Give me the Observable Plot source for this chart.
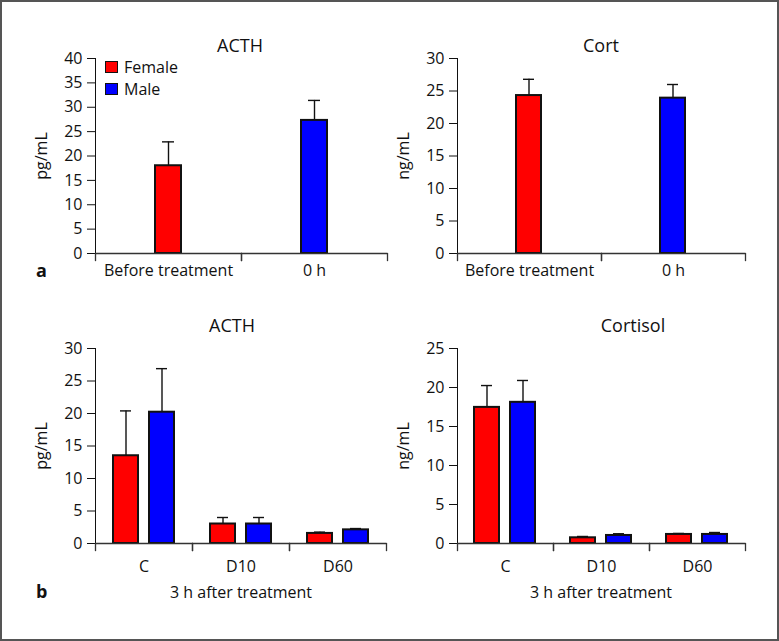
<!DOCTYPE html>
<html>
<head>
<meta charset="utf-8">
<script src="https://cdn.jsdelivr.net/npm/d3@7"></script>
<script src="https://cdn.jsdelivr.net/npm/@observablehq/plot@0.6"></script>
<style>
  body { margin: 0; background: #fff; }
  #fig { position: relative; width: 779px; height: 641px; background: #fff; overflow: hidden;
         font-family: 'Open Sans', sans-serif; color: #111; }
  #border { position: absolute; left: 0; top: 0; width: 779px; height: 641px; box-sizing: border-box;
            border: 2px solid #555; pointer-events: none; }
  .panel { position: absolute; }
  .panel svg { display: block; }
  .title { position: absolute; font-size: 18px; transform: translate(-50%, -50%); white-space: nowrap; }
  .xlabel { position: absolute; font-size: 16px; transform: translate(-50%, -50%); white-space: nowrap; }
  .letter { position: absolute; font-size: 18px; font-weight: bold; transform: translate(0, -50%); }
  .legend { position: absolute; font-size: 16px; }
  .legend .item { position: absolute; white-space: nowrap; transform: translate(0, -50%); display: flex; align-items: center; }
  .legend .sw { width: 11px; height: 10px; border: 1.5px solid #111; margin-right: 6px; }
</style>
</head>
<body>
<div id="fig"></div>
<script>
// ---------- data ----------
const sexes = ["Female", "Male"];
const sexColors = ["#ff0000", "#0000ff"];

// panel a
const groupsA = ["Before treatment", "0 h"];
const sexA = ["Female", "Male"];
const acthA = [18.0, 27.3];
const acthAErr = [22.9, 31.4];
const cortA = [24.3, 23.9];
const cortAErr = [26.8, 26.0];

// panel b (3 h after treatment)
const groupsB = ["C", "D10", "D60"];
const acthBFemale = [13.5, 3.0, 1.55];
const acthBFemaleErr = [20.4, 4.0, 1.75];
const acthBMale = [20.2, 3.0, 2.1];
const acthBMaleErr = [26.9, 4.0, 2.3];
const cortBFemale = [17.45, 0.73, 1.16];
const cortBFemaleErr = [20.25, 0.9, 1.29];
const cortBMale = [18.1, 1.03, 1.16];
const cortBMaleErr = [20.9, 1.25, 1.41];

// axis ticks
const ticksActhA = [0, 5, 10, 15, 20, 25, 30, 35, 40];
const ticksCortA = [0, 5, 10, 15, 20, 25, 30];
const ticksActhB = [0, 5, 10, 15, 20, 25, 30];
const ticksCortB = [0, 5, 10, 15, 20, 25];

// ---------- build rows ----------
const rowsSingle = (groups, sx, vals, errs) =>
  groups.map((g, i) => ({group: g, sex: sx[i], value: vals[i], err: errs[i]}));
const rowsPaired = (groups, f, fe, m, me) =>
  groups.flatMap((g, i) => [
    {group: g, sex: "Female", value: f[i], err: fe[i]},
    {group: g, sex: "Male", value: m[i], err: me[i]}
  ]);

function panel(rows, o) {
  const xKey = o.single ? (() => "bar") : "sex";
  const innerH = o.height - o.mt - o.mb;
  return Plot.plot({
    width: o.width, height: o.height,
    marginLeft: o.ml, marginRight: o.mr, marginTop: o.mt, marginBottom: o.mb,
    style: "font-family: 'Open Sans', sans-serif; font-size: 16px; color: #111; background: transparent; overflow: visible;",
    fx: {domain: o.groups, padding: 0, label: null, tickSize: 0, tickPadding: o.fxPad, axis: "bottom"},
    x: o.single
      ? {domain: ["bar"], padding: 0.7, axis: null}
      : {domain: sexes, paddingInner: 0.3, paddingOuter: 0.47, axis: null},
    y: {domain: [0, o.ticks[o.ticks.length - 1]], ticks: o.ticks, tickSize: 8, tickPadding: 5,
        line: true, label: o.yLabel, labelAnchor: "center", labelArrow: "none", labelOffset: 60},
    color: {domain: sexes, range: sexColors},
    marks: [
      Plot.ruleX(rows, {fx: "group", x: xKey, y1: "value", y2: "err", stroke: "#111", strokeWidth: 1.4}),
      Plot.tickY(rows, {fx: "group", x: xKey, y: "err", stroke: "#111", strokeWidth: 1.4, insetLeft: 7, insetRight: 7}),
      Plot.barY(rows, {fx: "group", x: xKey, y: "value", fill: "sex", stroke: "#111", strokeWidth: 2}),
      Plot.ruleY([0], {stroke: "#333", strokeWidth: 1.3}),
      Plot.frame({anchor: "left", insetTop: innerH, insetBottom: -7, stroke: "#333", strokeWidth: 1.3}),
      Plot.frame({anchor: "right", insetTop: innerH, insetBottom: -7, stroke: "#333", strokeWidth: 1.3})
    ]
  });
}

const fig = document.getElementById("fig");
function place(node, left, top) {
  const d = document.createElement("div");
  d.className = "panel";
  d.style.left = left + "px";
  d.style.top = top + "px";
  d.appendChild(node);
  fig.appendChild(d);
}
function text(cls, str, x, y) {
  const d = document.createElement("div");
  d.className = cls;
  d.textContent = str;
  d.style.left = x + "px";
  d.style.top = y + "px";
  fig.appendChild(d);
}

place(panel(rowsSingle(groupsA, sexA, acthA, acthAErr),
  {single: true, groups: groupsA, ticks: ticksActhA, yLabel: "pg/mL",
   width: 390, height: 300, ml: 94, mr: 3, mt: 58, mb: 47, fxPad: 11}), 0, 0);
place(panel(rowsSingle(groupsA, sexA, cortA, cortAErr),
  {single: true, groups: groupsA, ticks: ticksCortA, yLabel: "ng/mL",
   width: 389, height: 300, ml: 67, mr: 34, mt: 58, mb: 47, fxPad: 11}), 390, 0);
place(panel(rowsPaired(groupsB, acthBFemale, acthBFemaleErr, acthBMale, acthBMaleErr),
  {single: false, groups: groupsB, ticks: ticksActhB, yLabel: "pg/mL",
   width: 390, height: 310, ml: 94, mr: 3, mt: 48, mb: 67, fxPad: 17}), 0, 300);
place(panel(rowsPaired(groupsB, cortBFemale, cortBFemaleErr, cortBMale, cortBMaleErr),
  {single: false, groups: groupsB, ticks: ticksCortB, yLabel: "ng/mL",
   width: 389, height: 310, ml: 67, mr: 34, mt: 48, mb: 67, fxPad: 17}), 390, 300);

// titles & labels
text("title", "ACTH", 240, 45);
text("title", "Cort", 601, 45);
text("title", "ACTH", 232, 325);
text("title", "Cortisol", 633, 325);
text("xlabel", "3 h after treatment", 241, 592);
text("xlabel", "3 h after treatment", 601, 592);
text("letter", "a", 36, 270);
text("letter", "b", 36, 591);

// legend
const leg = document.createElement("div");
leg.className = "legend";
leg.style.left = "105px";
leg.style.top = "0px";
sexes.forEach((s, i) => {
  const it = document.createElement("div");
  it.className = "item";
  it.style.top = (67 + i * 22) + "px";
  const sw = document.createElement("div");
  sw.className = "sw";
  sw.style.background = sexColors[i];
  it.appendChild(sw);
  it.appendChild(document.createTextNode(s));
  leg.appendChild(it);
});
fig.appendChild(leg);

const border = document.createElement("div");
border.id = "border";
fig.appendChild(border);
</script>
</body>
</html>
